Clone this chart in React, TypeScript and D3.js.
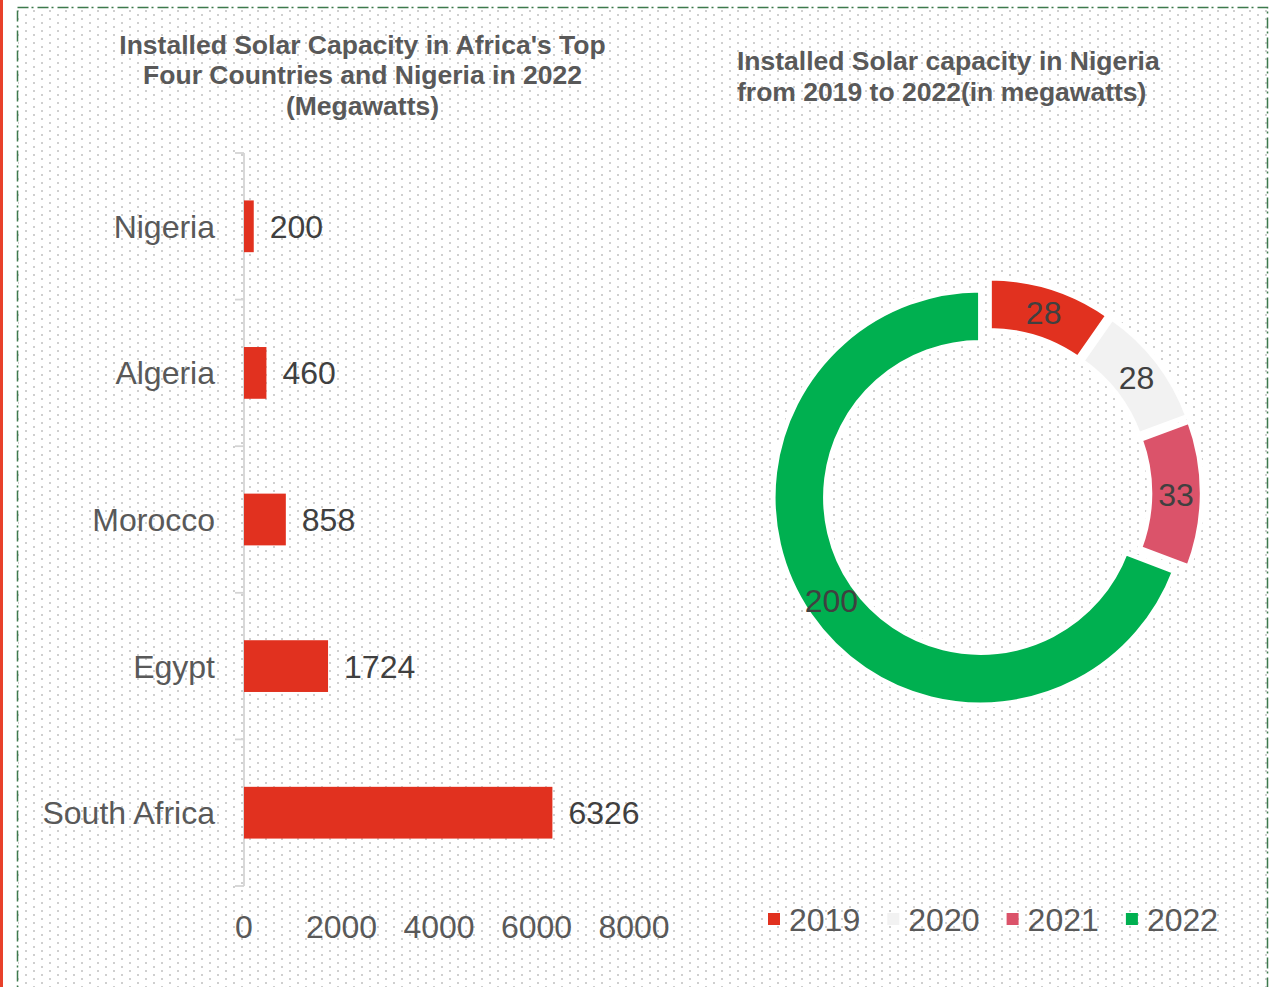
import React from "react";
import * as d3 from "d3";

const countries = ["Nigeria", "Algeria", "Morocco", "Egypt", "South Africa"];
const capacity = [200, 460, 858, 1724, 6326];
const xTicks = [0, 2000, 4000, 6000, 8000];

const years = ["2019", "2020", "2021", "2022"];
const nigeriaCapacity = [28, 28, 33, 200];
const yearColors = ["#E1311F", "#F2F2F2", "#DB536A", "#00B050"];

const leftTitle = ["Installed Solar Capacity in Africa's Top", "Four Countries and Nigeria in 2022", "(Megawatts)"];
const rightTitle = ["Installed Solar capacity in Nigeria", "from 2019 to 2022(in megawatts)"];

const FONT = "'Liberation Sans', Arial, sans-serif";
const GRAY = "#595959";
const DARK = "#404040";
const BAR = "#E1311F";

export default function App() {
  const W = 1276, H = 987;
  const x = d3.scaleLinear().domain([0, 8000]).range([244, 634]);
  const y = d3.scaleBand<string>().domain(countries).range([153, 886]).paddingInner(0.647).paddingOuter(0.3235);
  const boundaries = countries.map((c) => y(c)! - (y.step() - y.bandwidth()) / 2).concat([886]);

  const cx = 987, cy = 493, R = 207.5, r = 155, explode = 7.8;
  const pie = d3.pie<number>().sort(null).startAngle(0).endAngle(2 * Math.PI)(nigeriaCapacity);
  const arc = d3.arc<d3.PieArcDatum<number>>().innerRadius(r).outerRadius(R);

  const fs = 32;
  const tfs = 26.5;
  return (
    <div style={{ position: "absolute", left: 0, top: 0 }}>
      <svg width={W} height={H} style={{ display: "block" }} fontFamily={FONT}>
        <defs>
          <pattern id="dots" width={16} height={8} patternUnits="userSpaceOnUse" x={1} y={2}>
            <rect x={0} y={0} width={2} height={2} fill="#cfcfcf" />
            <rect x={8} y={4} width={2} height={2} fill="#cfcfcf" />
          </pattern>
        </defs>
        <rect x={0} y={0} width={W} height={H} fill="#ffffff" />
        <rect x={18} y={8} width={1249} height={H} fill="url(#dots)" />
        <rect x={17.5} y={7.5} width={1250} height={H + 10} fill="none" stroke="#3C7A4C" strokeWidth={1.5} strokeDasharray="11 3 2 4" />
        <rect x={0} y={0} width={3} height={H} fill="#E8402A" />

        {/* Left title */}
        {leftTitle.map((t, i) => (
          <text key={t} x={362.5} y={44 + i * 30.5 + tfs * 0.36} textAnchor="middle" fontSize={tfs} fontWeight="bold" fill={GRAY}>
            {t}
          </text>
        ))}
        {/* Right title */}
        {rightTitle.map((t, i) => (
          <text key={t} x={737} y={60 + i * 31 + tfs * 0.36} textAnchor="start" fontSize={tfs} fontWeight="bold" fill={GRAY}>
            {t}
          </text>
        ))}

        {/* Bar chart axis */}
        <line x1={244} x2={244} y1={153} y2={886} stroke="#d4d4d4" strokeWidth={1.8} />
        {boundaries.map((b, i) => (
          <line key={i} x1={235} x2={244} y1={b} y2={b} stroke="#d4d4d4" strokeWidth={1.8} />
        ))}
        {countries.map((c, i) => (
          <g key={c}>
            <rect x={x(0)} y={y(c)!} width={x(capacity[i]) - x(0)} height={y.bandwidth()} fill={BAR} />
            <text x={215} y={y(c)! + y.bandwidth() / 2 + fs * 0.36} textAnchor="end" fontSize={fs} fill={GRAY}>
              {c}
            </text>
            <text x={x(capacity[i]) + 16} y={y(c)! + y.bandwidth() / 2 + fs * 0.36} textAnchor="start" fontSize={fs} fill={DARK}>
              {capacity[i]}
            </text>
          </g>
        ))}
        {xTicks.map((t) => (
          <text key={t} x={x(t)} y={926 + fs * 0.36} textAnchor="middle" fontSize={fs} fill={GRAY}>
            {t}
          </text>
        ))}

        {/* Donut */}
        {pie.map((p, i) => {
          const mid = (p.startAngle + p.endAngle) / 2;
          const ox = cx + explode * Math.sin(mid);
          const oy = cy - explode * Math.cos(mid);
          const [lx, ly] = arc.centroid(p);
          return (
            <g key={years[i]} transform={`translate(${ox},${oy})`}>
              <path d={arc(p)!} fill={yearColors[i]} stroke="#ffffff" strokeWidth={5} strokeLinejoin="miter" />
              <text x={lx} y={ly + fs * 0.36} textAnchor="middle" fontSize={fs} fill={DARK}>
                {nigeriaCapacity[i]}
              </text>
            </g>
          );
        })}

        {/* Legend */}
        {years.map((yr, i) => {
          const lx = 768 + i * 119.3;
          return (
            <g key={yr}>
              <rect x={lx} y={913} width={12} height={12} fill={yearColors[i]} />
              <text x={lx + 21} y={919 + fs * 0.36} fontSize={fs} fill={GRAY}>
                {yr}
              </text>
            </g>
          );
        })}
      </svg>
    </div>
  );
}
